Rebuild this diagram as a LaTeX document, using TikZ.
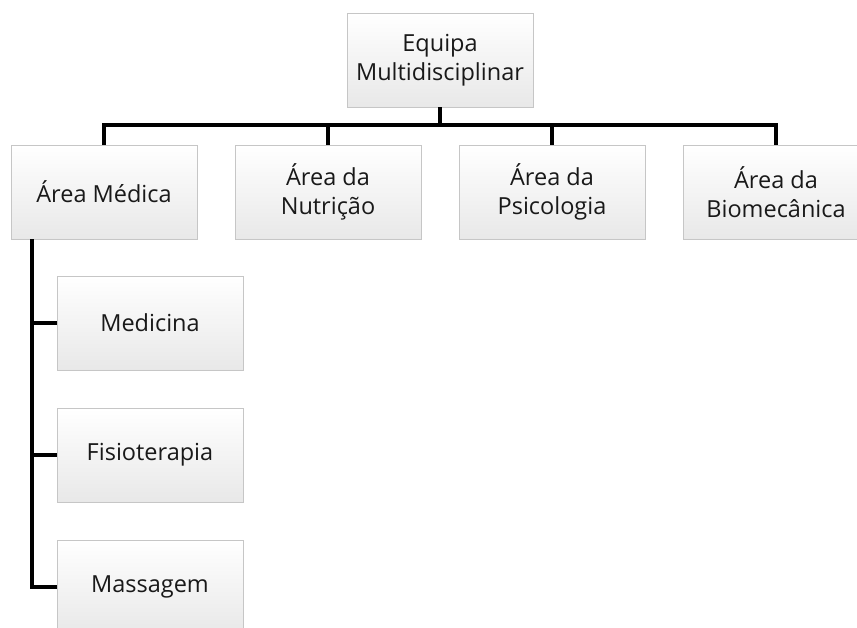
\documentclass[tikz,border=0pt]{standalone}
\usepackage{fontspec}
\setmainfont{Open Sans}
\usetikzlibrary{shadows}

\begin{document}
\begin{tikzpicture}[x=1pt,y=-1pt,
  area/.style={draw=gray!45, line width=0.6pt, top color=white, bottom color=gray!18,
    minimum width=186pt, minimum height=94pt, align=center, inner sep=2pt,
    font=\fontsize{23.5}{29.5}\selectfont, text=black!90,
    drop shadow={opacity=0.18, shadow xshift=1.2pt, shadow yshift=-1.2pt}},
  link/.style={line width=3.6pt}]

  \useasboundingbox (0,0) rectangle (857,628);

  \node[area] (equipa) at (440,60) {Equipa\\Multidisciplinar};

  \node[area] (medica) at (104,192) {Área Médica};
  \node[area] (nutricao) at (328,192) {Área da\\Nutrição};
  \node[area] (psicologia) at (552,192) {Área da\\Psicologia};
  \node[area] (biomecanica) at (776,192) {Área da\\Biomecânica};

  \node[area] (medicina) at (150,323) {Medicina};
  \node[area] (fisio) at (150,455) {Fisioterapia};
  \node[area] (massagem) at (150,587) {Massagem};

  \begin{scope}[link]
    \foreach \n in {medica,nutricao,psicologia,biomecanica}
      \draw (equipa.south) -- ++(0,18) -| (\n.north);
    \coordinate (spine) at ([xshift=-72pt]medica.south);
    \foreach \n in {medicina,fisio,massagem}
      \draw (spine) |- (\n.west);
  \end{scope}

\end{tikzpicture}
\end{document}
